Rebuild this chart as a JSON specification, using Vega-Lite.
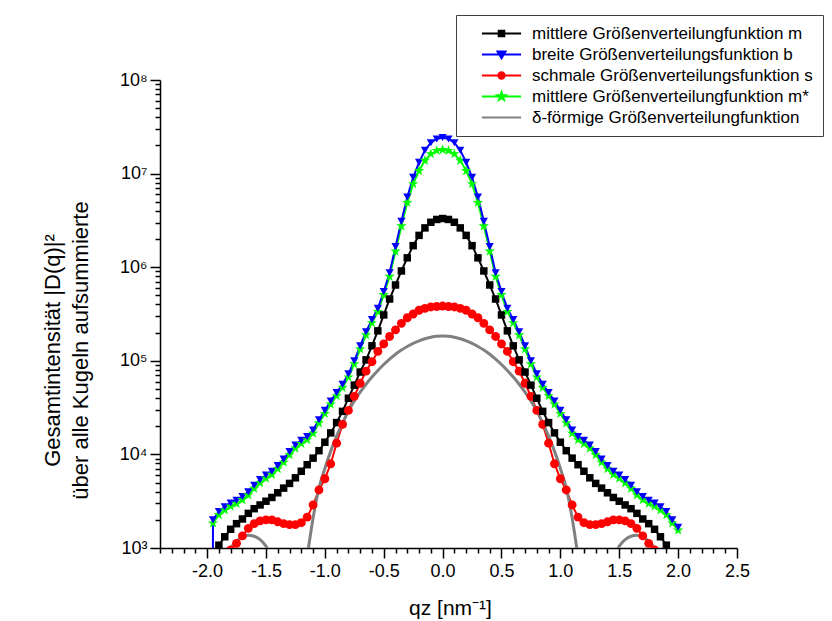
{
  "$schema": "https://vega.github.io/schema/vega-lite/v6.json",
  "width": 577,
  "height": 468,
  "autosize": {"type": "none"},
  "padding": {"left": 160, "top": 80, "right": 95, "bottom": 73},
  "background": "white",
  "config": {
    "font": "Liberation Sans",
    "view": {"stroke": null},
    "axis": {
      "grid": false,
      "domainColor": "black",
      "domainWidth": 1.5,
      "tickColor": "black",
      "tickWidth": 1.5,
      "labelColor": "black",
      "titleColor": "black",
      "labelFont": "Liberation Sans",
      "titleFont": "Liberation Sans",
      "titleFontWeight": "normal",
      "labelOverlap": false,
      "labelFlush": false
    },
    "legend": {
      "orient": "none",
      "legendX": 296,
      "legendY": -65,
      "labelFont": "Liberation Sans",
      "labelFontSize": 17,
      "labelColor": "black",
      "labelLimit": 400,
      "symbolSize": 64,
      "symbolStrokeWidth": 2,
      "padding": 10,
      "rowPadding": 3,
      "strokeColor": "#404040",
      "fillColor": "white"
    }
  },
  "datasets": {
    "curves": [
      {"q": -2.0, "m": 708, "b": 1e-30, "s": 398, "ms": null},
      {"q": -1.95, "m": 912, "b": 2000, "s": 525, "ms": 1841},
      {"q": -1.9, "m": 1072, "b": 2455, "s": 661, "ms": 2265},
      {"q": -1.85, "m": 1318, "b": 2754, "s": 794, "ms": 2541},
      {"q": -1.8, "m": 1585, "b": 3020, "s": 955, "ms": 2786},
      {"q": -1.75, "m": 1820, "b": 3236, "s": 1122, "ms": 2985},
      {"q": -1.7, "m": 2042, "b": 3548, "s": 1349, "ms": 3273},
      {"q": -1.65, "m": 2344, "b": 3981, "s": 1622, "ms": 3673},
      {"q": -1.6, "m": 2630, "b": 4677, "s": 1820, "ms": 4315},
      {"q": -1.55, "m": 2884, "b": 5370, "s": 1950, "ms": 4955},
      {"q": -1.5, "m": 3162, "b": 6026, "s": 1995, "ms": 5559},
      {"q": -1.45, "m": 3467, "b": 6607, "s": 1995, "ms": 6095},
      {"q": -1.4, "m": 3890, "b": 7586, "s": 1905, "ms": 6998},
      {"q": -1.35, "m": 4365, "b": 8913, "s": 1820, "ms": 8222},
      {"q": -1.3, "m": 4898, "b": 10720, "s": 1778, "ms": 9886},
      {"q": -1.25, "m": 5623, "b": 12590, "s": 1778, "ms": 11610},
      {"q": -1.2, "m": 6607, "b": 14130, "s": 1862, "ms": 13030},
      {"q": -1.15, "m": 7762, "b": 15490, "s": 2138, "ms": 14290},
      {"q": -1.1, "m": 9120, "b": 18200, "s": 2884, "ms": 16790},
      {"q": -1.05, "m": 10960, "b": 23440, "s": 4169, "ms": 21630},
      {"q": -1.0, "m": 13490, "b": 29510, "s": 5495, "ms": 27230},
      {"q": -0.95, "m": 16980, "b": 37150, "s": 7943, "ms": 34280},
      {"q": -0.9, "m": 21880, "b": 45710, "s": 13180, "ms": 42170},
      {"q": -0.85, "m": 28840, "b": 56230, "s": 20890, "ms": 51880},
      {"q": -0.8, "m": 39810, "b": 72440, "s": 29510, "ms": 66830},
      {"q": -0.75, "m": 54950, "b": 100000, "s": 41690, "ms": 92260},
      {"q": -0.7, "m": 75860, "b": 144500, "s": 57540, "ms": 133400},
      {"q": -0.65, "m": 102300, "b": 204200, "s": 77620, "ms": 188400},
      {"q": -0.6, "m": 144500, "b": 275400, "s": 97720, "ms": 254100},
      {"q": -0.55, "m": 208900, "b": 363100, "s": 125900, "ms": 335000},
      {"q": -0.5, "m": 309000, "b": 549500, "s": 151400, "ms": 507000},
      {"q": -0.45, "m": 457100, "b": 871000, "s": 182000, "ms": 794300},
      {"q": -0.4, "m": 645700, "b": 1660000, "s": 213800, "ms": 1479000},
      {"q": -0.35, "m": 912000, "b": 3090000, "s": 251200, "ms": 2754000},
      {"q": -0.3, "m": 1259000, "b": 5623000, "s": 288400, "ms": 4898000},
      {"q": -0.25, "m": 1698000, "b": 9120000, "s": 316200, "ms": 7762000},
      {"q": -0.2, "m": 2188000, "b": 13180000, "s": 346700, "ms": 10720000},
      {"q": -0.15, "m": 2630000, "b": 17780000, "s": 363100, "ms": 13800000},
      {"q": -0.1, "m": 3020000, "b": 21380000, "s": 375800, "ms": 16220000},
      {"q": -0.05, "m": 3236000, "b": 23440000, "s": 380200, "ms": 17580000},
      {"q": 0.0, "m": 3311000, "b": 24270000, "s": 384600, "ms": 17990000},
      {"q": 0.05, "m": 3236000, "b": 23440000, "s": 380200, "ms": 17580000},
      {"q": 0.1, "m": 3020000, "b": 21380000, "s": 375800, "ms": 16220000},
      {"q": 0.15, "m": 2630000, "b": 17780000, "s": 363100, "ms": 13800000},
      {"q": 0.2, "m": 2188000, "b": 13180000, "s": 346700, "ms": 10720000},
      {"q": 0.25, "m": 1698000, "b": 9120000, "s": 316200, "ms": 7762000},
      {"q": 0.3, "m": 1259000, "b": 5623000, "s": 288400, "ms": 4898000},
      {"q": 0.35, "m": 912000, "b": 3090000, "s": 251200, "ms": 2754000},
      {"q": 0.4, "m": 645700, "b": 1660000, "s": 213800, "ms": 1479000},
      {"q": 0.45, "m": 457100, "b": 871000, "s": 182000, "ms": 794300},
      {"q": 0.5, "m": 309000, "b": 549500, "s": 151400, "ms": 507000},
      {"q": 0.55, "m": 208900, "b": 363100, "s": 125900, "ms": 335000},
      {"q": 0.6, "m": 144500, "b": 275400, "s": 97720, "ms": 254100},
      {"q": 0.65, "m": 102300, "b": 204200, "s": 77620, "ms": 188400},
      {"q": 0.7, "m": 75860, "b": 144500, "s": 57540, "ms": 133400},
      {"q": 0.75, "m": 54950, "b": 100000, "s": 41690, "ms": 92260},
      {"q": 0.8, "m": 39810, "b": 72440, "s": 29510, "ms": 66830},
      {"q": 0.85, "m": 28840, "b": 56230, "s": 20890, "ms": 51880},
      {"q": 0.9, "m": 21880, "b": 45710, "s": 13180, "ms": 42170},
      {"q": 0.95, "m": 16980, "b": 37150, "s": 7943, "ms": 34280},
      {"q": 1.0, "m": 13490, "b": 29510, "s": 5495, "ms": 27230},
      {"q": 1.05, "m": 10960, "b": 23440, "s": 4169, "ms": 21630},
      {"q": 1.1, "m": 9120, "b": 18200, "s": 2884, "ms": 16790},
      {"q": 1.15, "m": 7762, "b": 15490, "s": 2138, "ms": 14290},
      {"q": 1.2, "m": 6607, "b": 14130, "s": 1862, "ms": 13030},
      {"q": 1.25, "m": 5623, "b": 12590, "s": 1778, "ms": 11610},
      {"q": 1.3, "m": 4898, "b": 10720, "s": 1778, "ms": 9886},
      {"q": 1.35, "m": 4365, "b": 8913, "s": 1820, "ms": 8222},
      {"q": 1.4, "m": 3890, "b": 7586, "s": 1905, "ms": 6998},
      {"q": 1.45, "m": 3467, "b": 6607, "s": 1995, "ms": 6095},
      {"q": 1.5, "m": 3162, "b": 6026, "s": 1995, "ms": 5559},
      {"q": 1.55, "m": 2884, "b": 5370, "s": 1950, "ms": 4955},
      {"q": 1.6, "m": 2630, "b": 4677, "s": 1820, "ms": 4315},
      {"q": 1.65, "m": 2344, "b": 3981, "s": 1622, "ms": 3673},
      {"q": 1.7, "m": 2042, "b": 3548, "s": 1349, "ms": 3273},
      {"q": 1.75, "m": 1820, "b": 3236, "s": 1122, "ms": 2985},
      {"q": 1.8, "m": 1585, "b": 3020, "s": 955, "ms": 2786},
      {"q": 1.85, "m": 1318, "b": 2754, "s": 794, "ms": 2541},
      {"q": 1.9, "m": 1072, "b": 2455, "s": 661, "ms": 2265},
      {"q": 1.95, "m": 912, "b": 2000, "s": 525, "ms": 1841},
      {"q": 2.0, "m": 708, "b": 1660, "s": 398, "ms": 1549}
    ],
    "delta": [
      {"q": -2.0, "d": 63}, {"q": -1.95, "d": 158}, {"q": -1.9, "d": 398}, {"q": -1.85, "d": 708},
      {"q": -1.825, "d": 851}, {"q": -1.8, "d": 989}, {"q": -1.775, "d": 1096}, {"q": -1.75, "d": 1189},
      {"q": -1.7, "d": 1318}, {"q": -1.65, "d": 1365}, {"q": -1.6, "d": 1334}, {"q": -1.55, "d": 1230},
      {"q": -1.525, "d": 1148}, {"q": -1.5, "d": 1047}, {"q": -1.475, "d": 912}, {"q": -1.45, "d": 759},
      {"q": -1.4, "d": 501}, {"q": -1.35, "d": 316}, {"q": -1.3, "d": 200}, {"q": -1.25, "d": 100},
      {"q": -1.2, "d": 79}, {"q": -1.175, "d": 251}, {"q": -1.15, "d": 759}, {"q": -1.125, "d": 1318},
      {"q": -1.1, "d": 2089}, {"q": -1.05, "d": 4365}, {"q": -1.0, "d": 7079}, {"q": -0.95, "d": 10840},
      {"q": -0.9, "d": 15670}, {"q": -0.85, "d": 21630}, {"q": -0.8, "d": 28970}, {"q": -0.75, "d": 37330},
      {"q": -0.7, "d": 46340}, {"q": -0.65, "d": 56230}, {"q": -0.6, "d": 66990}, {"q": -0.55, "d": 78700},
      {"q": -0.5, "d": 91200}, {"q": -0.45, "d": 104200}, {"q": -0.4, "d": 117500}, {"q": -0.35, "d": 130300},
      {"q": -0.3, "d": 142200}, {"q": -0.25, "d": 153500}, {"q": -0.2, "d": 163300}, {"q": -0.15, "d": 172200},
      {"q": -0.1, "d": 178600}, {"q": -0.05, "d": 182800}, {"q": 0.0, "d": 184100},
      {"q": 0.05, "d": 182800}, {"q": 0.1, "d": 178600}, {"q": 0.15, "d": 172200}, {"q": 0.2, "d": 163300},
      {"q": 0.25, "d": 153500}, {"q": 0.3, "d": 142200}, {"q": 0.35, "d": 130300}, {"q": 0.4, "d": 117500},
      {"q": 0.45, "d": 104200}, {"q": 0.5, "d": 91200}, {"q": 0.55, "d": 78700}, {"q": 0.6, "d": 66990},
      {"q": 0.65, "d": 56230}, {"q": 0.7, "d": 46340}, {"q": 0.75, "d": 37330}, {"q": 0.8, "d": 28970},
      {"q": 0.85, "d": 21630}, {"q": 0.9, "d": 15670}, {"q": 0.95, "d": 10840}, {"q": 1.0, "d": 7079},
      {"q": 1.05, "d": 4365}, {"q": 1.1, "d": 2089}, {"q": 1.125, "d": 1318}, {"q": 1.15, "d": 759},
      {"q": 1.175, "d": 251}, {"q": 1.2, "d": 79}, {"q": 1.25, "d": 100}, {"q": 1.3, "d": 200},
      {"q": 1.35, "d": 316}, {"q": 1.4, "d": 501}, {"q": 1.45, "d": 759}, {"q": 1.475, "d": 912},
      {"q": 1.5, "d": 1047}, {"q": 1.525, "d": 1148}, {"q": 1.55, "d": 1230}, {"q": 1.6, "d": 1334},
      {"q": 1.65, "d": 1365}, {"q": 1.7, "d": 1318}, {"q": 1.75, "d": 1189}, {"q": 1.775, "d": 1096},
      {"q": 1.8, "d": 989}, {"q": 1.825, "d": 851}, {"q": 1.85, "d": 708}, {"q": 1.9, "d": 398},
      {"q": 1.95, "d": 158}, {"q": 2.0, "d": 63}
    ]
  },
  "encoding": {
    "x": {
      "field": "q",
      "type": "quantitative",
      "scale": {"domain": [-2.4, 2.5], "nice": false, "zero": false},
      "axis": {
        "title": "qz [nm⁻¹]",
        "titleFontSize": 21,
        "titleX": 290,
        "titleY": 66,
        "titleAlign": "center",
        "titleBaseline": "alphabetic",
        "values": [-2.4, -2.3, -2.2, -2.1, -2.0, -1.9, -1.8, -1.7, -1.6, -1.5, -1.4, -1.3, -1.2, -1.1, -1.0, -0.9, -0.8, -0.7, -0.6, -0.5, -0.4, -0.3, -0.2, -0.1, 0.0, 0.1, 0.2, 0.3, 0.4, 0.5, 0.6, 0.7, 0.8, 0.9, 1.0, 1.1, 1.2, 1.3, 1.4, 1.5, 1.6, 1.7, 1.8, 1.9, 2.0, 2.1, 2.2, 2.3, 2.4, 2.5],
        "labelExpr": "abs(datum.value*2 - round(datum.value*2)) < 0.01 ? (datum.value < -0.001 ? '-' : '') + format(abs(datum.value), '.1f') : ''",
        "tickSize": {"condition": {"test": "abs(datum.value*2 - round(datum.value*2)) < 0.01", "value": 10}, "value": 5},
        "labelFontSize": 18,
        "labelPadding": 4
      }
    },
    "y": {
      "field": "I",
      "type": "quantitative",
      "scale": {"type": "log", "domain": [1000, 100000000], "nice": false},
      "axis": {
        "title": ["Gesamtintensität |D(q)|²", "über alle Kugeln aufsummierte"],
        "titleFontSize": 22,
        "titleLineHeight": 28,
        "titleAngle": 270,
        "titleX": -96,
        "titleY": 270,
        "titleAlign": "center",
        "titleBaseline": "bottom",
        "values": [1000, 2000, 3000, 4000, 5000, 6000, 7000, 8000, 9000, 10000, 20000, 30000, 40000, 50000, 60000, 70000, 80000, 90000, 100000, 200000, 300000, 400000, 500000, 600000, 700000, 800000, 900000, 1000000, 2000000, 3000000, 4000000, 5000000, 6000000, 7000000, 8000000, 9000000, 10000000, 20000000, 30000000, 40000000, 50000000, 60000000, 70000000, 80000000, 90000000, 100000000],
        "labelExpr": "abs(log(datum.value)/LN10 - round(log(datum.value)/LN10)) < 0.001 ? '10' + ['⁰','¹','²','³','⁴','⁵','⁶','⁷','⁸'][round(log(datum.value)/LN10)] : ''",
        "tickSize": {"condition": {"test": "abs(log(datum.value)/LN10 - round(log(datum.value)/LN10)) < 0.001", "value": 10}, "value": 5},
        "labelFontSize": 18,
        "labelPadding": 3
      }
    }
  },
  "layer": [
    {
      "data": {"name": "curves"},
      "transform": [{"fold": ["m", "ms", "s", "b"], "as": ["key", "I"]}],
      "mark": {"type": "line", "strokeWidth": 2, "clip": true},
      "encoding": {
        "color": {"field": "key", "type": "nominal", "legend": null,
          "scale": {"domain": ["m", "b", "s", "ms", "d"], "range": ["#000000", "#0000ff", "#ff0000", "#00ff00", "#808080"]}},
        "detail": {"field": "key", "type": "nominal"}
      }
    },
    {
      "data": {"name": "delta"},
      "transform": [{"fold": ["d"], "as": ["key", "I"]}],
      "mark": {"type": "line", "strokeWidth": 3, "clip": true, "interpolate": "monotone"},
      "encoding": {
        "color": {"field": "key", "type": "nominal", "legend": null}
      }
    },
    {
      "data": {"name": "curves"},
      "transform": [{"fold": ["m", "ms", "s", "b"], "as": ["key", "I"]}],
      "mark": {"type": "point", "filled": true, "opacity": 1, "clip": true},
      "encoding": {
        "color": {"field": "key", "type": "nominal", "legend": null},
        "shape": {"field": "key", "type": "nominal", "legend": null,
          "scale": {"domain": ["m", "b", "s", "ms"], "range": ["square", "triangle-down", "circle", "M0,-1.15L0.27,-0.37L1.09,-0.36L0.43,0.14L0.67,0.93L0,0.46L-0.67,0.93L-0.43,0.14L-1.09,-0.36L-0.27,-0.37Z"]}},
        "size": {"field": "key", "type": "nominal", "legend": null,
          "scale": {"domain": ["m", "b", "s", "ms"], "range": [56, 90, 72, 72]}}
      }
    },
    {
      "data": {"values": []},
      "mark": {"type": "point", "filled": true, "opacity": 1, "strokeWidth": 2},
      "encoding": {
        "shape": {"field": "key", "type": "nominal",
          "scale": {"domain": ["m", "b", "s", "ms", "d"], "range": [
            "M-4.9,0H4.9M-0.7,-0.7H0.7V0.7H-0.7Z",
            "M-4.9,0H4.9M-1,-0.75H1L0,0.95Z",
            "M-4.9,0H4.9M0.8,0A0.8,0.8,0,1,1,-0.8,0A0.8,0.8,0,1,1,0.8,0Z",
            "M-4.9,0H4.9M0,-1.05L0.25,-0.34L1,-0.32L0.4,0.13L0.62,0.85L0,0.42L-0.62,0.85L-0.4,0.13L-1,-0.32L-0.25,-0.34Z",
            "M-4.9,0H4.9"]},
          "legend": {
            "title": null,
            "labelExpr": "{'m': 'mittlere Größenverteilungfunktion m', 'b': 'breite Größenverteilungsfunktion b', 's': 'schmale Größenverteilungsfunktion s', 'ms': 'mittlere Größenverteilungfunktion m*', 'd': 'δ-förmige Größenverteilungfunktion'}[datum.label]",
            "symbolOffset": 27,
            "labelOffset": 22
          }
        },
        "fill": {"field": "key", "type": "nominal",
          "scale": {"domain": ["m", "b", "s", "ms", "d"], "range": ["#000000", "#0000ff", "#ff0000", "#00ff00", "#808080"]},
          "legend": {
            "title": null,
            "labelExpr": "{'m': 'mittlere Größenverteilungfunktion m', 'b': 'breite Größenverteilungsfunktion b', 's': 'schmale Größenverteilungsfunktion s', 'ms': 'mittlere Größenverteilungfunktion m*', 'd': 'δ-förmige Größenverteilungfunktion'}[datum.label]",
            "symbolOffset": 27,
            "labelOffset": 22
          }
        },
        "stroke": {"field": "key", "type": "nominal",
          "scale": {"domain": ["m", "b", "s", "ms", "d"], "range": ["#000000", "#0000ff", "#ff0000", "#00ff00", "#808080"]},
          "legend": {
            "title": null,
            "labelExpr": "{'m': 'mittlere Größenverteilungfunktion m', 'b': 'breite Größenverteilungsfunktion b', 's': 'schmale Größenverteilungsfunktion s', 'ms': 'mittlere Größenverteilungfunktion m*', 'd': 'δ-förmige Größenverteilungfunktion'}[datum.label]",
            "symbolOffset": 27,
            "labelOffset": 22
          }
        }
      }
    }
  ],
  "resolve": {"scale": {"shape": "independent", "size": "independent", "fill": "independent", "stroke": "independent"}}
}
